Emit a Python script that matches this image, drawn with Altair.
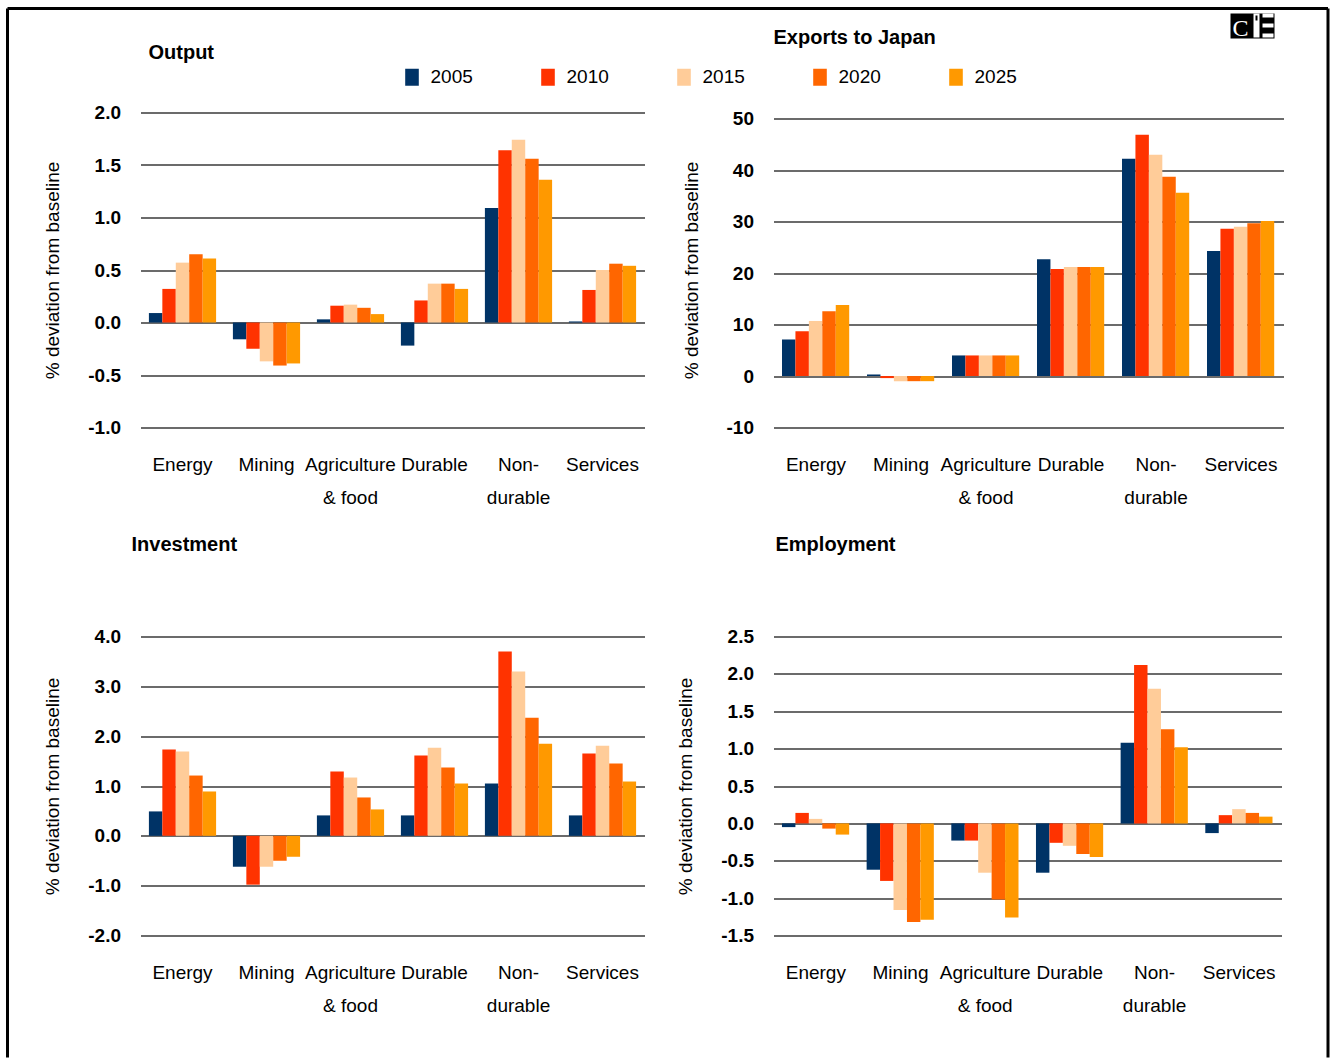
import altair as alt
import pandas as pd

FONT = "Liberation Sans"

categories = ["Energy", "Mining", "Agriculture\n& food", "Durable", "Non-\ndurable", "Services"]
years = ["2005", "2010", "2015", "2020", "2025"]
year_colors = ["#003366", "#FF3300", "#FFCC99", "#FF6600", "#FF9900"]

# % deviation from baseline, one list per year in category order
output_vals = {
    "2005": [0.09, -0.16, 0.03, -0.22, 1.09, 0.01],
    "2010": [0.32, -0.25, 0.16, 0.21, 1.64, 0.31],
    "2015": [0.57, -0.37, 0.17, 0.37, 1.74, 0.50],
    "2020": [0.65, -0.41, 0.14, 0.37, 1.56, 0.56],
    "2025": [0.61, -0.39, 0.08, 0.32, 1.36, 0.54],
}
exports_vals = {
    "2005": [7.1, 0.3, 4.0, 22.7, 42.2, 24.3],
    "2010": [8.7, -0.4, 4.0, 20.8, 46.9, 28.6],
    "2015": [10.7, -1.0, 4.0, 21.2, 43.0, 29.0],
    "2020": [12.6, -1.0, 4.0, 21.2, 38.7, 29.7],
    "2025": [13.8, -1.0, 4.0, 21.2, 35.6, 30.1],
}
investment_vals = {
    "2005": [0.49, -0.62, 0.41, 0.41, 1.05, 0.41],
    "2010": [1.73, -0.98, 1.29, 1.61, 3.70, 1.65],
    "2015": [1.69, -0.62, 1.17, 1.77, 3.30, 1.81],
    "2020": [1.21, -0.50, 0.77, 1.37, 2.37, 1.45],
    "2025": [0.89, -0.42, 0.53, 1.05, 1.85, 1.09],
}
employment_vals = {
    "2005": [-0.05, -0.62, -0.23, -0.66, 1.08, -0.13],
    "2010": [0.14, -0.77, -0.23, -0.26, 2.12, 0.11],
    "2015": [0.06, -1.16, -0.66, -0.30, 1.80, 0.19],
    "2020": [-0.07, -1.32, -1.02, -0.41, 1.26, 0.14],
    "2025": [-0.15, -1.29, -1.26, -0.45, 1.02, 0.09],
}

output_ticks = [-1.0, -0.5, 0.0, 0.5, 1.0, 1.5, 2.0]
exports_ticks = [-10, 0, 10, 20, 30, 40, 50]
investment_ticks = [-2.0, -1.0, 0.0, 1.0, 2.0, 3.0, 4.0]
employment_ticks = [-1.5, -1.0, -0.5, 0.0, 0.5, 1.0, 1.5, 2.0, 2.5]

one_row = pd.DataFrame({"k": [0]})


def to_long(vals):
    rows = []
    for y in years:
        for c, v in zip(categories, vals[y]):
            rows.append({"category": c, "year": y, "value": v})
    return pd.DataFrame(rows)


legend = alt.Legend(
    title=None, orient="none", legendX=262, legendY=-45, direction="horizontal",
    columns=5, gridAlign="all", symbolType="M-0.8,-1H0.8V1H-0.8Z", symbolSize=289,
    symbolStrokeWidth=0, symbolOpacity=1, labelFont=FONT, labelFontSize=19,
    labelColor="#000", labelOffset=9, columnPadding=65,
)


def title_text(label, dx, dy):
    return alt.Chart(one_row).mark_text(
        align="left", baseline="alphabetic", font=FONT, fontSize=20,
        fontWeight="bold", color="#000",
    ).encode(x=alt.value(dx), y=alt.value(dy), text=alt.value(label))


def panel(vals, domain, ticks, decimals, width, height):
    fmt = "'.1f'" if decimals else "'d'"
    return alt.Chart(to_long(vals)).mark_bar().encode(
        x=alt.X(
            "category:N", sort=categories,
            scale=alt.Scale(paddingInner=0.2, paddingOuter=0.1),
            axis=alt.Axis(
                title=None, labelAngle=0, domain=False, ticks=False,
                labelExpr="split(datum.label, '\\n')", labelPadding=28,
                labelLineHeight=33, labelBaseline="top",
            ),
        ),
        xOffset=alt.XOffset("year:N", sort=years,
                            scale=alt.Scale(paddingInner=0, paddingOuter=0)),
        y=alt.Y(
            "value:Q", scale=alt.Scale(domain=domain, nice=False),
            axis=alt.Axis(
                title="% deviation from baseline", values=ticks,
                labelExpr="(datum.value < 0 ? '-' : '') + format(abs(datum.value), " + fmt + ")",
            ),
        ),
        color=alt.Color("year:N", scale=alt.Scale(domain=years, range=year_colors),
                        legend=legend),
    ).properties(width=width, height=height)


# Outer frame and logo, drawn relative to the first panel's plot origin
frame_top = alt.Chart(one_row).mark_rule(color="#000", strokeWidth=3).encode(
    x=alt.value(-133), x2=alt.value(1187.5), y=alt.value(-104))
frame_left = alt.Chart(one_row).mark_rule(color="#000", strokeWidth=3).encode(
    x=alt.value(-133), y=alt.value(-104), y2=alt.value(945))
frame_right = alt.Chart(one_row).mark_rule(color="#000", strokeWidth=3).encode(
    x=alt.value(1187.5), y=alt.value(-104), y2=alt.value(945))

logo_box = alt.Chart(one_row).mark_rect(color="#000").encode(
    x=alt.value(1090), x2=alt.value(1134), y=alt.value(-99), y2=alt.value(-74))
logo_c = alt.Chart(one_row).mark_text(
    align="left", baseline="alphabetic", font="Liberation Serif", fontSize=24, color="#fff"
).encode(x=alt.value(1092), y=alt.value(-77), text=alt.value("C"))
logo_i = alt.Chart(one_row).mark_rect(color="#fff").encode(
    x=alt.value(1113), x2=alt.value(1119), y=alt.value(-99), y2=alt.value(-75))
logo_dot = alt.Chart(one_row).mark_rect(color="#000").encode(
    x=alt.value(1115), x2=alt.value(1117), y=alt.value(-97), y2=alt.value(-92))
logo_e = [
    alt.Chart(one_row).mark_rect(color="#fff").encode(
        x=alt.value(1122), x2=alt.value(1133), y=alt.value(y0), y2=alt.value(y0 + 4))
    for y0 in (-99, -89, -79)
]

output_chart = alt.layer(
    panel(output_vals, [-1.0, 2.0], output_ticks, True, 504, 315),
    title_text("Output", 8, -54),
    frame_top, frame_left, frame_right,
    logo_box, logo_c, logo_i, logo_dot, *logo_e,
)
exports_chart = alt.layer(
    panel(exports_vals, [-10, 51.2], exports_ticks, False, 510, 315),
    title_text("Exports to Japan", 0, -69),
)
investment_chart = alt.layer(
    panel(investment_vals, [-2.0, 4.0], investment_ticks, True, 504, 299),
    title_text("Investment", -9, -86),
)
employment_chart = alt.layer(
    panel(employment_vals, [-1.5, 2.5], employment_ticks, True, 508, 299),
    title_text("Employment", 2, -86),
)

chart = alt.concat(
    output_chart, exports_chart, investment_chart, employment_chart,
    columns=2, spacing={"row": 209, "column": 129}, bounds="flush",
).properties(
    padding={"left": 5.5, "top": 6.5, "right": 0, "bottom": 0},
    autosize=alt.AutoSizeParams(type="pad"),
).configure_view(
    stroke=None
).configure_axis(
    labelFont=FONT, titleFont=FONT, labelColor="#000", titleColor="#000",
    labelFontSize=19, titleFontSize=19,
).configure_axisY(
    domain=False, ticks=False, grid=True, gridColor="#3a3a3a", gridWidth=1.5,
    labelFontWeight="bold", labelPadding=20, titleFontWeight="normal", titlePadding=25,
).configure_axisX(
    grid=False,
)

chart.save("out.html", embed_options={"renderer": "svg", "actions": False})
